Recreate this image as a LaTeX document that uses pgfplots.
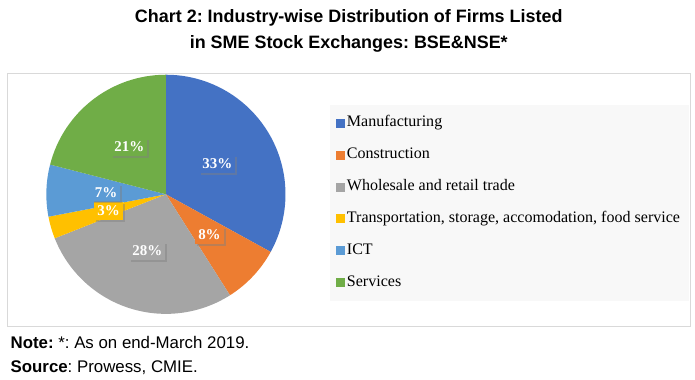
\documentclass[border=0pt]{standalone}
\usepackage{pgfplots}
\pgfplotsset{compat=1.18}
\usepackage{pgfplotstable}
\usepackage{fontspec}
\setmainfont{Liberation Serif}
\newfontfamily\arial{Liberation Sans}
\usetikzlibrary{shadows}
\definecolor{c0}{HTML}{4472C4}
\definecolor{c1}{HTML}{ED7D31}
\definecolor{c2}{HTML}{A5A5A5}
\definecolor{c3}{HTML}{FFC000}
\definecolor{c4}{HTML}{5B9BD5}
\definecolor{c5}{HTML}{70AD47}
\definecolor{framegray}{HTML}{D9D9D9}
\definecolor{legbg}{HTML}{F8F8F8}

\pgfplotstableread[col sep=semicolon]{
label;value
Manufacturing;33
Construction;8
Wholesale and retail trade;28
Transportation, storage, accomodation, food service;3
ICT;7
Services;21
}\piedata

\begin{document}
\frenchspacing
\def\cum{0}
\pgfplotsforeachungrouped \i in {0,...,5}{%
  \pgfplotstablegetelem{\i}{value}\of\piedata
  \let\v\pgfplotsretval
  \expandafter\xdef\csname val\i\endcsname{\v}%
  \pgfmathsetmacro\sa{90-3.6*\cum}%
  \pgfmathsetmacro\ea{90-3.6*(\cum+\v)}%
  \pgfmathsetmacro\ma{90-3.6*(\cum+\v/2)}%
  \expandafter\xdef\csname sa\i\endcsname{\sa}%
  \expandafter\xdef\csname ea\i\endcsname{\ea}%
  \expandafter\xdef\csname ma\i\endcsname{\ma}%
  \pgfmathsetmacro\cum{\cum+\v}%
  \pgfplotstablegetelem{\i}{label}\of\piedata
  \expandafter\xdef\csname lab\i\endcsname{\pgfplotsretval}%
}%
\begin{tikzpicture}
\useasboundingbox (0,0) rectangle (695pt,381pt);
% outer frame
\draw[framegray, line width=1pt] (5pt,307pt) rectangle (690pt,53pt);
% title
\node[anchor=base, inner sep=0pt, font=\arial\bfseries\fontsize{18}{20}\selectfont] at (347.5pt,358pt)
  {Chart 2: Industry-wise Distribution of Firms Listed};
\node[anchor=base, inner sep=0pt, font=\arial\bfseries\fontsize{18}{20}\selectfont] at (347.5pt,332pt)
  {in SME Stock Exchanges: BSE\&NSE*};
% notes
\node[anchor=base west, inner sep=0pt, font=\arial\fontsize{16.9}{18}\selectfont] at (8pt,31pt)
  {\textbf{Note:} *: As on end-March 2019.};
\node[anchor=base west, inner sep=0pt, font=\arial\fontsize{16.9}{18}\selectfont] at (8pt,7pt)
  {\textbf{Source}: Prowess, CMIE.};
\begin{axis}[
  at={(164pt,186pt)}, anchor=center,
  scale only axis, width=240pt, height=240pt,
  xmin=-1, xmax=1, ymin=-1, ymax=1,
  hide axis,
  legend image code/.code={\path[#1] (0pt,-4.5pt) rectangle (9pt,4.5pt);},
  legend cell align=left,
  legend style={
    at={(1.1833,0.875)}, anchor=north west,
    draw=none, fill=legbg,
    font=\fontsize{16.1}{18}\selectfont,
    inner xsep=7pt, inner ysep=11pt,
    row sep=17pt, column sep=0pt,
    nodes={text height=11pt, text depth=4pt, inner xsep=1.5pt, inner ysep=0pt},
  },
]
\pgfplotsinvokeforeach{0,...,5}{
  \fill[c#1] (axis cs:0,0) -- (axis cs:{cos(\csname sa#1\endcsname)},{sin(\csname sa#1\endcsname)})
    arc[start angle=\csname sa#1\endcsname, end angle=\csname ea#1\endcsname, radius=120pt] -- cycle;
}
\pgfplotsinvokeforeach{0,...,5}{
  \node[fill=c#1, text=white, font=\bfseries\fontsize{15}{15}\selectfont,
        inner xsep=3pt, inner ysep=3pt, text height=10.5pt, text depth=1pt,
        drop shadow={shadow xshift=2pt, shadow yshift=-2pt, opacity=0.45}]
    at (axis cs:{0.5*cos(\csname ma#1\endcsname)},{0.5*sin(\csname ma#1\endcsname)})
    {\csname val#1\endcsname\%};
}
\pgfplotsinvokeforeach{0,...,5}{
  \addlegendimage{fill=c#1, draw=none}
  \addlegendentry{\csname lab#1\endcsname}
}
\end{axis}
\end{tikzpicture}
\end{document}
